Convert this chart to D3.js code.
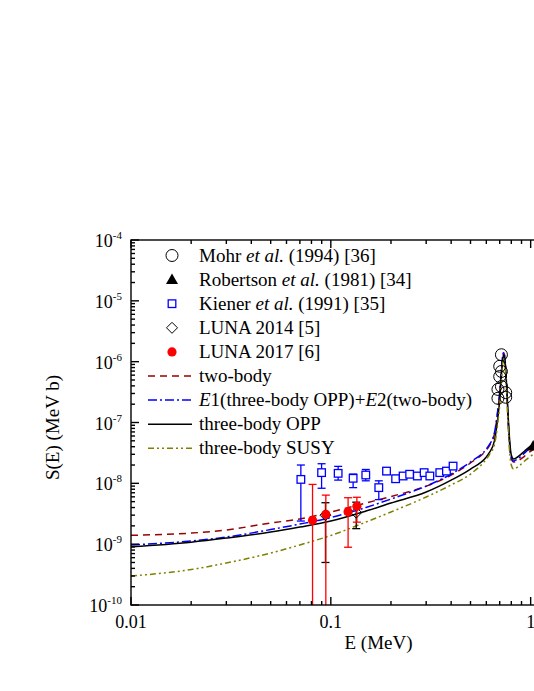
<!DOCTYPE html>
<html>
<head>
<meta charset="utf-8">
<script src="https://cdn.jsdelivr.net/npm/d3@7"></script>
<style>
  body { margin: 0; background: #fff; }
  svg { display: block; }
  text { font-family: "Liberation Serif", "Times New Roman", serif; fill: #000; }
</style>
</head>
<body>
<svg id="chart" width="534" height="691"></svg>
<script>
// ---- data: [E (MeV), S (MeV b)] ----
var mohr = [[0.714, 1.30e-6], [0.700, 8.4e-7], [0.714, 6.9e-7], [0.700, 5.7e-7], [0.714, 3.9e-7],
            [0.686, 3.5e-7], [0.750, 3.1e-7], [0.686, 2.5e-7], [0.750, 2.6e-7]];
var robertson = [[1.03, 4.1e-8]];
// [E, S, low, high]
var kiener = [[0.0708, 1.16e-8, 2.4e-9, 2.0e-8], [0.0899, 1.50e-8, 8.3e-9, 2.1e-8],
              [0.1088, 1.46e-8, 1.13e-8, 1.9e-8], [0.1293, 1.21e-8, 8.5e-9, 1.42e-8],
              [0.1496, 1.37e-8, 1.1e-8, 1.69e-8], [0.1738, 8.5e-9, 5.4e-9, 1.1e-8],
              [0.190, 1.59e-8, 1.4e-8, 1.8e-8], [0.211, 1.19e-8, 1.05e-8, 1.35e-8],
              [0.230, 1.32e-8, 1.2e-8, 1.45e-8], [0.248, 1.41e-8, 1.28e-8, 1.55e-8],
              [0.271, 1.32e-8, 1.2e-8, 1.45e-8], [0.293, 1.50e-8, 1.36e-8, 1.65e-8],
              [0.313, 1.32e-8, 1.2e-8, 1.45e-8], [0.351, 1.50e-8, 1.36e-8, 1.65e-8],
              [0.379, 1.59e-8, 1.45e-8, 1.75e-8], [0.409, 1.92e-8, 1.75e-8, 2.1e-8]];
var luna2014 = [[0.094, 3.0e-9, 5.0e-10, 4.8e-9], [0.134, 3.3e-9, 1.8e-9, 4.9e-9]];
var luna2017 = [[0.081, 2.47e-9, 1e-12, 9.6e-9], [0.0944, 3.1e-9, 1e-12, 6.4e-9],
                [0.122, 3.4e-9, 8.9e-10, 5.8e-9], [0.135, 4.2e-9, 2.3e-9, 5.9e-9]];

// theory curves
var twoBody = [[0.01, 1.40e-9], [0.02, 1.52e-9], [0.03, 1.71e-9], [0.05, 2.23e-9], [0.07, 2.59e-9],
               [0.1, 3.38e-9], [0.15, 4.75e-9], [0.2, 6.07e-9], [0.3, 9.0e-9], [0.4, 1.37e-8],
               [0.5, 2.16e-8], [0.6, 3.53e-8], [0.62, 4.10e-8], [0.66, 6.7e-8], [0.683, 1.43e-7],
               [0.70, 3.05e-7], [0.716, 8.2e-7], [0.724, 1.19e-6], [0.735, 1.39e-6], [0.745, 1.02e-6],
               [0.758, 3.83e-7], [0.771, 1.10e-7], [0.785, 3.95e-8], [0.800, 2.51e-8], [0.821, 2.24e-8],
               [0.860, 2.33e-8], [0.933, 2.81e-8], [1.02, 3.53e-8], [1.1, 3.9e-8]];
var e1e2 = [[0.01, 9.7e-10], [0.02, 1.13e-9], [0.03, 1.31e-9], [0.05, 1.74e-9], [0.07, 2.14e-9],
            [0.1, 2.74e-9], [0.15, 4.01e-9], [0.2, 5.52e-9], [0.3, 9.0e-9], [0.4, 1.42e-8],
            [0.5, 2.24e-8], [0.6, 3.66e-8], [0.62, 4.27e-8], [0.66, 6.98e-8], [0.683, 1.49e-7],
            [0.70, 3.17e-7], [0.716, 8.5e-7], [0.724, 1.24e-6], [0.735, 1.44e-6], [0.745, 1.06e-6],
            [0.758, 4.13e-7], [0.771, 1.19e-7], [0.785, 4.27e-8], [0.800, 2.61e-8], [0.821, 2.33e-8],
            [0.860, 2.51e-8], [0.933, 3.16e-8], [1.02, 4.10e-8], [1.1, 4.4e-8]];
var threeOPP = [[0.01, 9.1e-10], [0.02, 1.08e-9], [0.03, 1.26e-9], [0.05, 1.58e-9], [0.07, 1.91e-9],
                [0.1, 2.40e-9], [0.15, 3.51e-9], [0.2, 4.75e-9], [0.3, 7.2e-9], [0.4, 1.13e-8],
                [0.5, 1.72e-8], [0.6, 2.71e-8], [0.62, 3.16e-8], [0.66, 5.15e-8], [0.683, 1.10e-7],
                [0.70, 2.34e-7], [0.716, 6.76e-7], [0.724, 1.06e-6], [0.735, 1.29e-6], [0.745, 9.9e-7],
                [0.758, 4.13e-7], [0.771, 1.33e-7], [0.785, 5.15e-8], [0.800, 2.92e-8], [0.821, 2.51e-8],
                [0.860, 2.71e-8], [0.933, 3.40e-8], [1.02, 4.27e-8], [1.1, 4.6e-8]];
var threeSUSY = [[0.01, 2.99e-10], [0.02, 3.83e-10], [0.03, 4.9e-10], [0.05, 7.15e-10], [0.07, 9.7e-10],
                 [0.1, 1.39e-9], [0.15, 2.31e-9], [0.2, 3.38e-9], [0.3, 5.96e-9], [0.4, 9.4e-9],
                 [0.5, 1.42e-8], [0.6, 2.51e-8], [0.62, 2.92e-8], [0.66, 4.43e-8], [0.683, 9.1e-8],
                 [0.70, 1.94e-7], [0.716, 5.38e-7], [0.724, 9.1e-7], [0.735, 1.15e-6], [0.745, 8.5e-7],
                 [0.758, 3.17e-7], [0.771, 9.1e-8], [0.785, 3.27e-8], [0.800, 2.0e-8], [0.821, 1.72e-8],
                 [0.860, 1.85e-8], [0.933, 2.33e-8], [1.02, 2.92e-8], [1.1, 3.2e-8]];

var xTickLabels = ["0.01", "0.1", "1"];
var yDecades = [-10, -9, -8, -7, -6, -5, -4];

// ---- layout ----
var svg = d3.select("#chart");
var pLeft = 131, pRight = 626, pTop = 240, pBottom = 605;   // plot is cut at the right side of the picture

var x = d3.scaleLog().domain([0.01, 3]).range([pLeft, pRight]);
var y = d3.scaleLog().domain([1e-10, 1e-4]).range([pBottom, pTop]);

svg.append("defs").append("clipPath").attr("id", "plotClip")
    .append("rect").attr("x", pLeft).attr("y", pTop)
    .attr("width", pRight - pLeft).attr("height", pBottom - pTop);

// ---- curves ----
var lineFun = d3.line()
    .x(function (d) { return x(d[0]); })
    .y(function (d) { return y(d[1]); })
    .curve(d3.curveMonotoneX);

var curves = [
    { data: twoBody, color: "#990000", dash: "7,5" },
    { data: e1e2, color: "#0000ff", dash: "9,3,2,3" },
    { data: threeOPP, color: "#000000", dash: null },
    { data: threeSUSY, color: "#808000", dash: "6,3,2,3,2,3" }
];

var gPlot = svg.append("g").attr("clip-path", "url(#plotClip)");

gPlot.selectAll("path.curve").data(curves).enter()
    .append("path")
    .attr("class", "curve")
    .attr("d", function (d) { return lineFun(d.data); })
    .attr("fill", "none")
    .attr("stroke", function (d) { return d.color; })
    .attr("stroke-width", 1.5)
    .attr("stroke-dasharray", function (d) { return d.dash; });

// ---- error bars ----
function errorBars(g, data, color) {
    var cap = 4;
    data.forEach(function (d) {
        var cx = x(d[0]);
        g.append("line").attr("x1", cx).attr("x2", cx)
            .attr("y1", y(d[2])).attr("y2", y(d[3]))
            .attr("stroke", color).attr("stroke-width", 1.3);
        [d[2], d[3]].forEach(function (v) {
            g.append("line").attr("x1", cx - cap).attr("x2", cx + cap)
                .attr("y1", y(v)).attr("y2", y(v))
                .attr("stroke", color).attr("stroke-width", 1.3);
        });
    });
}

errorBars(gPlot, kiener, "#0000ff");
errorBars(gPlot, luna2014, "#000000");
errorBars(gPlot, luna2017, "#ff0000");

// ---- symbols ----
function drawSymbol(g, type, cx, cy) {
    if (type === "circle") {
        g.append("circle").attr("cx", cx).attr("cy", cy).attr("r", 6)
            .attr("fill", "none").attr("stroke", "#000").attr("stroke-width", 1);
    } else if (type === "triangle") {
        g.append("path").attr("d", "M" + cx + "," + (cy - 6) + "L" + (cx + 6) + "," + (cy + 4.5) + "L" + (cx - 6) + "," + (cy + 4.5) + "Z")
            .attr("fill", "#000");
    } else if (type === "square") {
        g.append("rect").attr("x", cx - 3.8).attr("y", cy - 3.8).attr("width", 7.6).attr("height", 7.6)
            .attr("fill", "#fff").attr("stroke", "#0000ff").attr("stroke-width", 1.3);
    } else if (type === "diamond") {
        g.append("path").attr("d", "M" + cx + "," + (cy - 5.5) + "L" + (cx + 5.5) + "," + cy + "L" + cx + "," + (cy + 5.5) + "L" + (cx - 5.5) + "," + cy + "Z")
            .attr("fill", "none").attr("stroke", "#000").attr("stroke-width", 1);
    } else if (type === "dot") {
        g.append("circle").attr("cx", cx).attr("cy", cy).attr("r", 4.6).attr("fill", "#ff0000");
    }
}

kiener.forEach(function (d) { drawSymbol(gPlot, "square", x(d[0]), y(d[1])); });
luna2014.forEach(function (d) { drawSymbol(gPlot, "diamond", x(d[0]), y(d[1])); });
luna2017.forEach(function (d) { drawSymbol(gPlot, "dot", x(d[0]), y(d[1])); });
mohr.forEach(function (d) { drawSymbol(gPlot, "circle", x(d[0]), y(d[1])); });
robertson.forEach(function (d) { drawSymbol(gPlot, "triangle", x(d[0]), y(d[1])); });

// ---- axes (frame with inward ticks) ----
var gAxis = svg.append("g").attr("stroke", "#000").attr("stroke-width", 1.4);
gAxis.append("rect").attr("x", pLeft).attr("y", pTop).attr("width", pRight - pLeft).attr("height", pBottom - pTop)
    .attr("fill", "none");

function isDecade(t) {
    return Math.abs(Math.log10(t) - Math.round(Math.log10(t))) < 1e-6;
}

x.ticks().forEach(function (t) {
    var len = isDecade(t) ? 8 : 4;
    gAxis.append("line").attr("x1", x(t)).attr("x2", x(t)).attr("y1", pBottom).attr("y2", pBottom - len);
    gAxis.append("line").attr("x1", x(t)).attr("x2", x(t)).attr("y1", pTop).attr("y2", pTop + len);
});

y.ticks().forEach(function (t) {
    var len = isDecade(t) ? 8 : 4;
    gAxis.append("line").attr("x1", pLeft).attr("x2", pLeft + len).attr("y1", y(t)).attr("y2", y(t));
    gAxis.append("line").attr("x1", pRight).attr("x2", pRight - len).attr("y1", y(t)).attr("y2", y(t));
});

// tick labels
svg.selectAll("text.xlab").data(xTickLabels).enter()
    .append("text")
    .attr("class", "xlab")
    .attr("x", function (d) { return x(+d); })
    .attr("y", pBottom + 23)
    .attr("text-anchor", "middle")
    .attr("font-size", 18)
    .text(function (d) { return d; });

yDecades.forEach(function (p) {
    var t = svg.append("text")
        .attr("x", pLeft - 9)
        .attr("y", y(Math.pow(10, p)) + 7)
        .attr("text-anchor", "end")
        .attr("font-size", 18);
    t.append("tspan").text("10");
    t.append("tspan").attr("font-size", 11).attr("dy", -8).text(String(p));
});

// axis titles
svg.append("text")
    .attr("x", (pLeft + pRight) / 2)
    .attr("y", 649)
    .attr("text-anchor", "middle")
    .attr("font-size", 19)
    .text("E (MeV)");

svg.append("text")
    .attr("transform", "translate(59," + ((pTop + pBottom) / 2 + 5) + ") rotate(-90)")
    .attr("text-anchor", "middle")
    .attr("font-size", 19)
    .text("S(E) (MeV b)");

// ---- legend ----
var legendItems = [
    { sym: "circle", parts: [["Mohr ", 0], ["et al.", 1], [" (1994) [36]", 0]] },
    { sym: "triangle", parts: [["Robertson ", 0], ["et al.", 1], [" (1981) [34]", 0]] },
    { sym: "square", parts: [["Kiener ", 0], ["et al.", 1], [" (1991) [35]", 0]] },
    { sym: "diamond", parts: [["LUNA 2014 [5]", 0]] },
    { sym: "dot", parts: [["LUNA 2017 [6]", 0]] },
    { line: 0, parts: [["two-body", 0]] },
    { line: 1, parts: [["E", 1], ["1(three-body OPP)+", 0], ["E", 1], ["2(two-body)", 0]] },
    { line: 2, parts: [["three-body OPP", 0]] },
    { line: 3, parts: [["three-body SUSY", 0]] }
];

var gLeg = svg.append("g");
legendItems.forEach(function (item, i) {
    var ly = 255.5 + i * 24.1;
    if (item.sym) {
        drawSymbol(gLeg, item.sym, 172, ly);
    } else {
        var c = curves[item.line];
        gLeg.append("line").attr("x1", 148).attr("x2", 192).attr("y1", ly).attr("y2", ly)
            .attr("stroke", c.color).attr("stroke-width", 1.5)
            .attr("stroke-dasharray", c.dash);
    }
    var t = gLeg.append("text").attr("x", 199).attr("y", ly + 6).attr("font-size", 19);
    item.parts.forEach(function (p) {
        t.append("tspan").attr("font-style", p[1] ? "italic" : "normal").text(p[0]);
    });
});
</script>
</body>
</html>
